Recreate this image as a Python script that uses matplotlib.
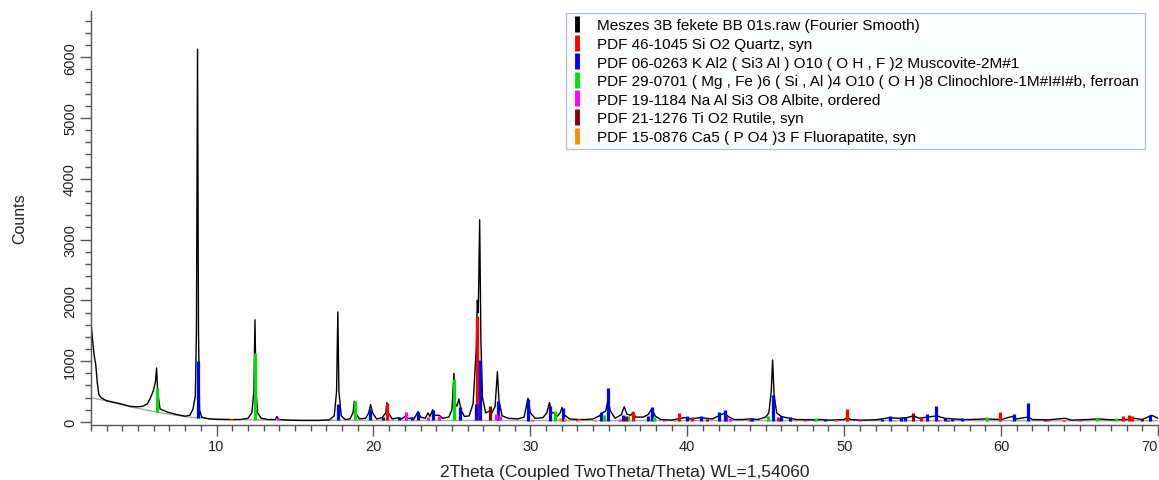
import matplotlib
matplotlib.use('Agg')
import matplotlib.pyplot as plt
from matplotlib.lines import Line2D
from matplotlib.ticker import MultipleLocator
import numpy as np

plt.rcParams['font.family'] = ['Liberation Sans', 'DejaVu Sans']

two_theta = [2.00, 2.10, 2.20, 2.30, 2.40, 2.50, 2.65, 2.80, 3.00, 3.50, 4.00, 4.50, 5.00, 5.30,
             5.60, 5.85, 6.00, 6.10, 6.18, 6.25, 6.40, 6.90, 7.50, 8.00, 8.30, 8.50, 8.65, 8.72,
             8.79, 8.85, 8.92, 9.05, 9.50, 10.00, 10.50, 11.00, 11.50, 12.00, 12.25, 12.38, 12.45,
             12.52, 12.62, 12.85, 13.30, 13.75, 13.85, 13.95, 14.50, 15.50, 16.50, 17.20, 17.50,
             17.65, 17.73, 17.80, 17.95, 18.20, 18.50, 18.70, 18.78, 18.86, 19.10, 19.50, 19.70,
             19.82, 19.95, 20.20, 20.55, 20.78, 20.86, 20.95, 21.20, 21.60, 21.80, 22.00, 22.20,
             22.60, 22.85, 23.00, 23.30, 23.48, 23.60, 23.78, 23.90, 24.20, 24.40, 24.80, 25.00,
             25.13, 25.22, 25.33, 25.45, 25.58, 25.80, 26.10, 26.35, 26.55, 26.62, 26.68, 26.77,
             26.85, 26.95, 27.15, 27.40, 27.55, 27.75, 27.90, 28.00, 28.20, 28.60, 29.20, 29.60,
             29.85, 30.00, 30.30, 30.80, 31.05, 31.22, 31.35, 31.55, 31.70, 31.90, 32.02, 32.15,
             32.50, 33.00, 33.50, 34.00, 34.40, 34.60, 34.80, 34.95, 35.10, 35.40, 35.80, 35.98,
             36.15, 36.40, 36.55, 36.70, 37.20, 37.50, 37.75, 37.95, 38.30, 39.00, 39.40, 39.80,
             40.20, 40.80, 41.20, 41.60, 42.00, 42.40, 42.60, 43.00, 43.50, 44.00, 44.50, 45.00,
             45.20, 45.35, 45.44, 45.53, 45.70, 46.00, 46.50, 47.00, 48.00, 48.50, 49.00, 50.00,
             50.20, 50.40, 51.00, 52.00, 52.90, 53.50, 54.00, 54.40, 54.80, 55.30, 55.90, 56.40,
             57.00, 57.50, 58.00, 59.00, 60.00, 60.70, 61.00, 61.70, 62.00, 63.00, 64.10, 64.50,
             65.50, 66.20, 67.00, 68.00, 68.50, 69.00, 69.60, 70.00]
counts = [1650, 1350, 1100, 950, 650, 450, 400, 375, 350, 320, 290, 255, 250, 258,
          300, 430, 540, 650, 888, 500, 213, 160, 120, 94, 110, 213, 430, 1500,
          6130, 1500, 200, 80, 50, 42, 40, 38, 40, 60, 150, 500, 1680,
          500, 150, 60, 40, 40, 90, 40, 30, 25, 25, 35, 100,
          500, 1810, 500, 100, 40, 50, 150, 340, 150, 50, 60, 150,
          285, 150, 50, 70, 150, 320, 150, 50, 70, 50, 90, 60,
          60, 170, 80, 60, 150, 90, 200, 110, 110, 60, 80, 200,
          800, 300, 260, 380, 200, 90, 100, 300, 1200, 2000, 1800, 3326,
          1300, 400, 150, 180, 150, 250, 827, 350, 100, 60, 50, 80,
          390, 150, 60, 70, 150, 320, 150, 150, 90, 150, 240, 120,
          50, 40, 40, 50, 100, 150, 180, 360, 180, 60, 120, 250,
          130, 110, 160, 80, 80, 120, 220, 100, 40, 30, 50, 70,
          50, 70, 60, 50, 100, 150, 90, 40, 40, 50, 40, 80,
          150, 500, 1020, 450, 150, 90, 60, 40, 35, 40, 30, 40,
          80, 40, 30, 35, 70, 60, 70, 100, 60, 80, 100, 60,
          50, 40, 40, 50, 40, 90, 50, 80, 40, 35, 60, 30,
          40, 50, 35, 40, 60, 40, 110, 60]

# fitted background (grey line)
bg_theta = [2.0, 3.0, 4.0, 4.6, 6.2, 8.3, 10.0, 12.0, 20.0, 70.0]
bg_counts = [400, 345, 288, 245, 160, 77, 50, 33, 25, 20]

# reference stick patterns: positions and heights
quartz_pos = [20.85, 26.62, 36.55, 39.47, 40.30, 42.45, 45.80, 50.17, 54.90, 59.96, 64.00,
              67.75, 68.15, 68.35]
quartz_h = [320, 1750, 170, 143, 77, 115, 80, 214, 80, 170, 40, 104, 110, 90]

muscovite_pos = [8.85, 17.75, 19.80, 20.60, 21.60, 22.45, 22.85, 23.80, 25.50, 26.55, 26.80,
                 27.95, 29.85, 31.24, 32.05, 34.50, 34.95, 35.90, 37.50, 37.75, 39.96, 40.85,
                 42.00, 42.40, 44.10, 45.45, 46.00, 46.55, 48.80, 52.40, 52.90, 53.60, 53.90,
                 55.27, 55.85, 56.40, 56.90, 57.50, 60.80, 61.70, 69.50]
muscovite_h = [1000, 300, 214, 80, 80, 80, 170, 202, 246, 296, 1025,
               340, 378, 260, 230, 170, 560, 115, 104, 252, 100, 95,
               160, 200, 60, 444, 100, 85, 50, 50, 100, 80, 80,
               131, 255, 60, 50, 60, 131, 307, 120]

chlorite_pos = [6.20, 12.45, 18.80, 25.13, 31.60, 34.70, 36.20, 37.90, 45.17, 48.20, 59.10,
                66.10, 67.30]
chlorite_h = [555, 1134, 345, 707, 186, 115, 100, 80, 100, 60, 77, 60, 70]

albite_pos = [13.90, 15.00, 16.80, 22.05, 23.50, 24.20, 27.80, 28.05, 30.10, 33.00, 35.70,
              38.50, 42.70, 47.50, 49.50, 51.00, 56.00, 63.00, 65.00]
albite_h = [60, 30, 30, 164, 80, 104, 131, 100, 40, 40, 50, 30, 60, 40, 30, 40, 30, 30, 30]

rutile_pos = [27.43, 36.10, 41.25, 44.00, 54.36, 56.60, 62.80, 69.00]
rutile_h = [258, 90, 50, 30, 148, 40, 30, 50]

apatite_pos = [10.90, 16.90, 21.80, 25.90, 28.90, 31.90, 32.20, 33.10, 34.10, 39.20, 46.90,
               49.50, 53.20]
apatite_h = [30, 30, 40, 40, 40, 70, 60, 50, 40, 30, 30, 40, 30]

labels = ['Meszes 3B fekete BB 01s.raw (Fourier Smooth)',
          'PDF 46-1045 Si O2 Quartz, syn',
          'PDF 06-0263 K Al2 ( Si3 Al ) O10 ( O H , F )2 Muscovite-2M#1',
          'PDF 29-0701 ( Mg , Fe )6 ( Si , Al )4 O10 ( O H )8 Clinochlore-1M#I#I#b, ferroan',
          'PDF 19-1184 Na Al Si3 O8 Albite, ordered',
          'PDF 21-1276 Ti O2 Rutile, syn',
          'PDF 15-0876 Ca5 ( P O4 )3 F Fluorapatite, syn']
colors = ['black', '#ff0000', '#0000ff', '#00e000', '#ff00ff', '#8b0000', '#ff8c00']

fig = plt.figure(figsize=(11.59, 4.81), dpi=100)
ax = fig.add_axes([91 / 1159, 55 / 481, 1067 / 1159, 414 / 481])

ax.plot(bg_theta, bg_counts, color='#a8a8a8', linewidth=1.0, zorder=1)
ax.plot(two_theta, counts, color='black', linewidth=1.0, zorder=2)

sticks = [(quartz_pos, quartz_h), (muscovite_pos, muscovite_h), (chlorite_pos, chlorite_h),
          (albite_pos, albite_h), (rutile_pos, rutile_h), (apatite_pos, apatite_h)]
for (pos, h), c in zip(sticks, colors[1:]):
    base = np.interp(pos, bg_theta, bg_counts)
    ax.vlines(pos, base, h, colors=c, linewidth=2.3, zorder=3)

ax.set_xlim(2, 70)
ax.set_ylim(-50, 6760)

for side in ['top', 'right']:
    ax.spines[side].set_visible(False)
for side in ['left', 'bottom']:
    ax.spines[side].set_color('#555555')
    ax.spines[side].set_linewidth(1.0)

ax.xaxis.set_major_locator(MultipleLocator(10))
ax.xaxis.set_minor_locator(MultipleLocator(1))
ax.yaxis.set_major_locator(MultipleLocator(1000))
ax.yaxis.set_minor_locator(MultipleLocator(200))
ax.tick_params(axis='both', which='major', direction='out', length=8, width=1,
               color='#555555', labelcolor='#222222')
ax.tick_params(axis='both', which='minor', direction='out', length=4, width=1, color='#555555')
ax.tick_params(axis='x', labelsize=10.5, pad=2)
ax.tick_params(axis='y', labelsize=10.5, pad=2)
for t in ax.get_yticklabels():
    t.set_rotation(90)
    t.set_va('center')

ax.set_xlabel('2Theta (Coupled TwoTheta/Theta) WL=1,54060', fontsize=12.5, color='#222222',
              labelpad=8)
ax.set_ylabel('Counts', fontsize=11.5, color='#222222', labelpad=26)

handles = [Line2D([], [], color=c, marker='|', linestyle='None', markersize=11,
                  markeredgewidth=3.5) for c in colors]
leg = fig.legend(handles, labels, loc='upper left', bbox_to_anchor=(566 / 1159, 467 / 481),
                 fontsize=11, frameon=True, fancybox=False, handlelength=0.7,
                 handletextpad=1.0, labelspacing=0.3, borderpad=0.35, borderaxespad=0)
leg.get_frame().set_edgecolor('#a9b4c8')
leg.get_frame().set_facecolor('#fcfdff')
leg.get_frame().set_linewidth(1.0)

# keep the last x label (70) inside the figure, as the reference shows it at the edge
fig.canvas.draw()
for tick in ax.xaxis.get_major_ticks():
    if abs(tick.get_loc() - 70) < 1e-6:
        tick.label1.set_horizontalalignment('right')

plt.savefig('out.png', dpi=100)
